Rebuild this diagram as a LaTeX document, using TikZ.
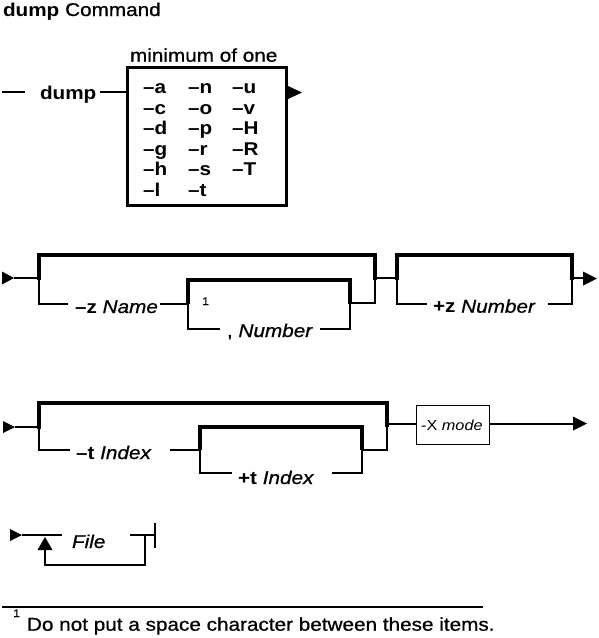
\documentclass[tikz,border=0pt]{standalone}
\usepackage{fontspec}
\setmainfont{Liberation Sans}[FakeStretch=1.12, UprightFeatures={FakeBold=0.8}, ItalicFeatures={FakeBold=0.8}]
\newfontfamily\rrlight{Liberation Sans}[FakeStretch=1.12]
\newcommand\rrfont{\fontsize{18.5}{20}\selectfont}
\newcommand\rrsmall{\fontsize{14.5}{16}\selectfont}
\newcommand\rrtiny{\fontsize{11}{12}\selectfont}
\begin{document}
\begin{tikzpicture}[x=1pt,y=-1pt,
  rr/.style={line width=2pt, line join=miter},
  rrthick/.style={line width=4pt, line join=miter},
  lbl/.style={anchor=base west, inner sep=0pt, outer sep=0pt, font=\rrfont},
  opt/.style={anchor=base west, inner sep=0pt, outer sep=0pt, font=\rrfont\bfseries},
  tip/.style={fill=black, draw=none}]
\useasboundingbox (0,0) rectangle (598,638);

% ---------- title ----------
\node[lbl] (title) at (3,16) {\textbf{dump} Command};

% ---------- top: dump + options box ----------
\coordinate (s0) at (2,92);
\coordinate (s1) at (25,92);
\draw[rr] (s0) -- (s1);
\node[opt] (dumpcmd) at (40,99) {dump};
\node[draw, line width=2.5pt, minimum width=159pt, minimum height=138pt, inner sep=0pt, anchor=north west] (optbox) at (126,66) {};
\node[lbl] (minone) at (130,61.7) {minimum of one};
\coordinate (d1) at (100,92);
\draw[rr] (d1) -- (optbox.west |- d1);
\coordinate (a1) at (289,92);
\draw[rr] (optbox.east |- a1) -- (a1);
\fill[tip] (288,86) -- (302,92.5) -- (288,99) -- cycle;
\foreach \t [count=\i from 0] in {a,c,d,g,h,l}
  \node[opt] (oa\i) at (143,93.5+20.5*\i) {–\t};
\foreach \t [count=\i from 0] in {n,o,p,r,s,t}
  \node[opt] (ob\i) at (188,93.5+20.5*\i) {–\t};
\foreach \t [count=\i from 0] in {u,v,H,R,T}
  \node[opt] (oc\i) at (232,93.5+20.5*\i) {–\t};

% ---------- row 1 ----------
\fill[tip] (2,271.5) -- (14,278) -- (2,284.5) -- cycle;
\coordinate (r1a) at (14,278);
\coordinate (r1b) at (39,278);
\draw[rr] (r1a) -- (r1b);
\draw[rrthick] (39,280) -- (39,255) -- (375,255) -- (375,280);
\draw[rr] (r1b) -- (39,304) -- (68,304);
\node[lbl] (zname) at (75,313) {\textbf{–z} \textit{Name}};
\draw[rr] (160,304) -- (188,304);
\draw[rrthick] (188,304) -- (188,280) -- (350,280) -- (350,304);
\node[anchor=base west, inner sep=0pt, font=\rrtiny] (fn1a) at (202,305) {1};
\draw[rr] (188,304) -- (188,329) -- (220,329);
\node[lbl] (znum) at (227,337) {, \textit{Number}};
\draw[rr] (320,329) -- (350,329) -- (350,303) -- (375,303) -- (375,278);
\coordinate (r1c) at (375,278);
\coordinate (r1d) at (397,278);
\draw[rr] (r1c) -- (r1d);
\draw[rrthick] (397,280) -- (397,255) -- (572,255) -- (572,280);
\draw[rr] (r1d) -- (397,304) -- (427,304);
\node[lbl] (pznum) at (433,312.7) {\textbf{+z} \textit{Number}};
\draw[rr] (548,304) -- (572,304) -- (572,278) -- (584,278);
\fill[tip] (583,271.5) -- (597,278.5) -- (583,285.5) -- cycle;

% ---------- row 2 ----------
\fill[tip] (3,421) -- (15,427) -- (3,433) -- cycle;
\coordinate (r2a) at (15,427);
\coordinate (r2b) at (39,427);
\draw[rr] (r2a) -- (r2b);
\draw[rrthick] (39,429) -- (39,403) -- (387,403) -- (387,427);
\draw[rr] (r2b) -- (39,450) -- (70,450);
\node[lbl] (tidx) at (76,459) {\textbf{–t} \textit{Index}};
\draw[rr] (170,450) -- (200,450);
\draw[rrthick] (200,450) -- (200,427) -- (362,427) -- (362,450);
\draw[rr] (200,450) -- (200,473) -- (232,473);
\node[lbl] (ptidx) at (238,484) {\textbf{+t} \textit{Index}};
\draw[rr] (332,473) -- (362,473) -- (362,450) -- (387,450) -- (387,423.5);
\node[draw, line width=1pt, minimum width=73pt, minimum height=39pt, inner sep=0pt, anchor=north west] (xbox) at (415.5,405) {};
\node[anchor=base west, inner sep=0pt, font=\rrsmall\rrlight] (xmode) at (421,430.7) {-X \textit{mode}};
\draw[rr] (387,423.5) -- (xbox.west |- 0,423.5);
\draw[rr] (xbox.east |- 0,423.5) -- (574,423.5);
\fill[tip] (573,416.5) -- (587,423.5) -- (573,430.5) -- cycle;

% ---------- File ----------
\fill[tip] (10,529) -- (22,535) -- (10,541) -- cycle;
\draw[rr] (22,535) -- (62,535);
\node[lbl] (file) at (72,548) {\textit{File}};
\draw[rr] (130,535) -- (155,535);
\draw[rr] (145,535) -- (145,565) -- (45,565) -- (45,548);
\fill[tip] (45,537) -- (52.5,550) -- (37.5,550) -- cycle;
\draw[rr] (155,523) -- (155,548);

% ---------- footnote ----------
\draw[line width=1.5pt] (2,607) -- (483,607);
\node[anchor=base west, inner sep=0pt, font=\rrtiny] (fn1b) at (13,617) {1};
\node[lbl] (fntext) at (27,630.7) {Do not put a space character between these items.};
\end{tikzpicture}
\end{document}
